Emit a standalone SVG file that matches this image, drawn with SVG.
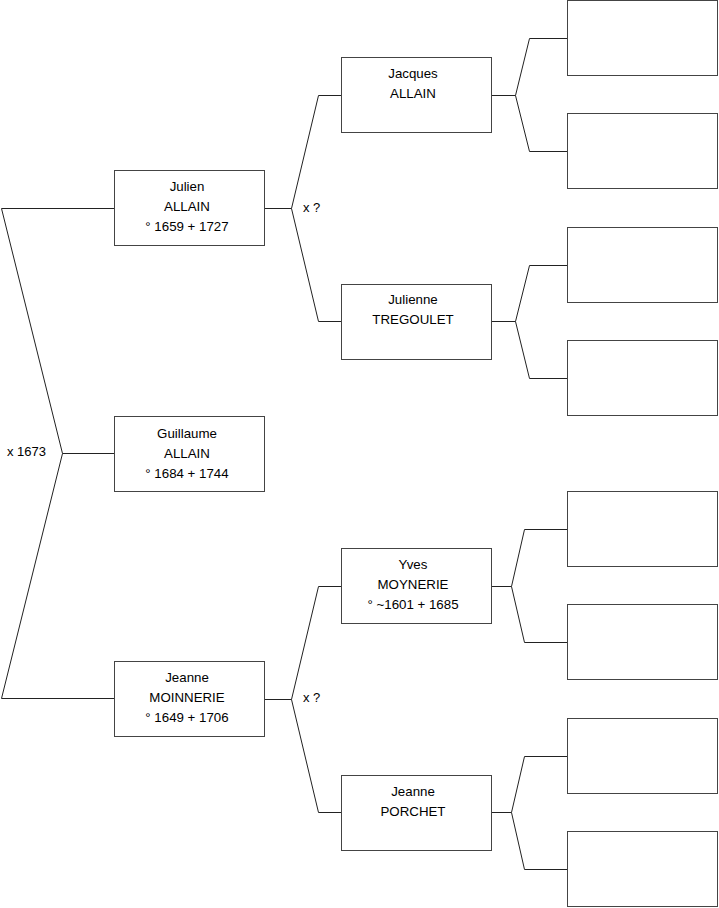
<svg xmlns="http://www.w3.org/2000/svg" width="719" height="908" viewBox="0 0 719 908">
<style>
.box{fill:#fff;stroke:#444;stroke-width:1}
.ln{fill:none;stroke:#222;stroke-width:1}
text{font-family:"Liberation Sans",Arial,sans-serif;font-size:13.3px;fill:#000;text-anchor:middle}
.lbl{text-anchor:start;font-size:13px}
</style>
<rect width="719" height="908" fill="#fff"/>
<g id="connectors">
<polyline class="ln" points="114,208.5 1.5,208.5 62.5,453.5 1.5,698.5 114,698.5"/>
<line class="ln" x1="62.5" y1="453.5" x2="114" y2="453.5"/>
<polyline class="ln" points="265,208.5 291.5,208.5 318.5,95.5 341,95.5"/>
<polyline class="ln" points="291.5,208.5 318.5,321.5 341,321.5"/>
<polyline class="ln" points="265,699.5 291.5,699.5 318.5,586.5 341,586.5"/>
<polyline class="ln" points="291.5,699.5 318.5,812.5 341,812.5"/>
<polyline class="ln" points="491,95.5 515.5,95.5 529.5,38.5 567,38.5"/>
<polyline class="ln" points="515.5,95.5 529.5,151.5 567,151.5"/>
<polyline class="ln" points="491,321.5 515.5,321.5 529.5,265.5 567,265.5"/>
<polyline class="ln" points="515.5,321.5 529.5,378.5 567,378.5"/>
<polyline class="ln" points="491,586.5 511.5,586.5 524.5,529.5 567,529.5"/>
<polyline class="ln" points="511.5,586.5 524.5,642.5 567,642.5"/>
<polyline class="ln" points="491,812.5 511.5,812.5 524.5,756.5 567,756.5"/>
<polyline class="ln" points="511.5,812.5 524.5,869.5 567,869.5"/>
<text class="lbl" x="7" y="456">x 1673</text>
<text class="lbl" x="303" y="212">x ?</text>
<text class="lbl" x="303" y="702">x ?</text>
</g>
<g id="guillaume"><rect class="box" x="114.5" y="416.5" width="150" height="75"/>
<text x="187" y="438">Guillaume</text><text x="187" y="458">ALLAIN</text><text x="187" y="478">° 1684 + 1744</text></g>
<g id="julien"><rect class="box" x="114.5" y="170.5" width="150" height="75"/>
<text x="187" y="191">Julien</text><text x="187" y="211">ALLAIN</text><text x="187" y="231">° 1659 + 1727</text></g>
<g id="jeanne-m"><rect class="box" x="114.5" y="661.5" width="150" height="75"/>
<text x="187" y="682">Jeanne</text><text x="187" y="702">MOINNERIE</text><text x="187" y="722">° 1649 + 1706</text></g>
<g id="jacques"><rect class="box" x="341.5" y="57.5" width="150" height="75"/>
<text x="413" y="78">Jacques</text><text x="413" y="98">ALLAIN</text></g>
<g id="julienne"><rect class="box" x="341.5" y="284.5" width="150" height="75"/>
<text x="413" y="304">Julienne</text><text x="413" y="324">TREGOULET</text></g>
<g id="yves"><rect class="box" x="341.5" y="548.5" width="150" height="75"/>
<text x="413" y="569">Yves</text><text x="413" y="589">MOYNERIE</text><text x="413" y="609">° ~1601 + 1685</text></g>
<g id="jeanne-p"><rect class="box" x="341.5" y="775.5" width="150" height="75"/>
<text x="413" y="796">Jeanne</text><text x="413" y="816">PORCHET</text></g>
<g id="r1"><rect class="box" x="567.5" y="0.5" width="150" height="75"/></g>
<g id="r2"><rect class="box" x="567.5" y="113.5" width="150" height="75"/></g>
<g id="r3"><rect class="box" x="567.5" y="227.5" width="150" height="75"/></g>
<g id="r4"><rect class="box" x="567.5" y="340.5" width="150" height="75"/></g>
<g id="r5"><rect class="box" x="567.5" y="491.5" width="150" height="75"/></g>
<g id="r6"><rect class="box" x="567.5" y="604.5" width="150" height="75"/></g>
<g id="r7"><rect class="box" x="567.5" y="718.5" width="150" height="75"/></g>
<g id="r8"><rect class="box" x="567.5" y="831.5" width="150" height="75"/></g>
</svg>
